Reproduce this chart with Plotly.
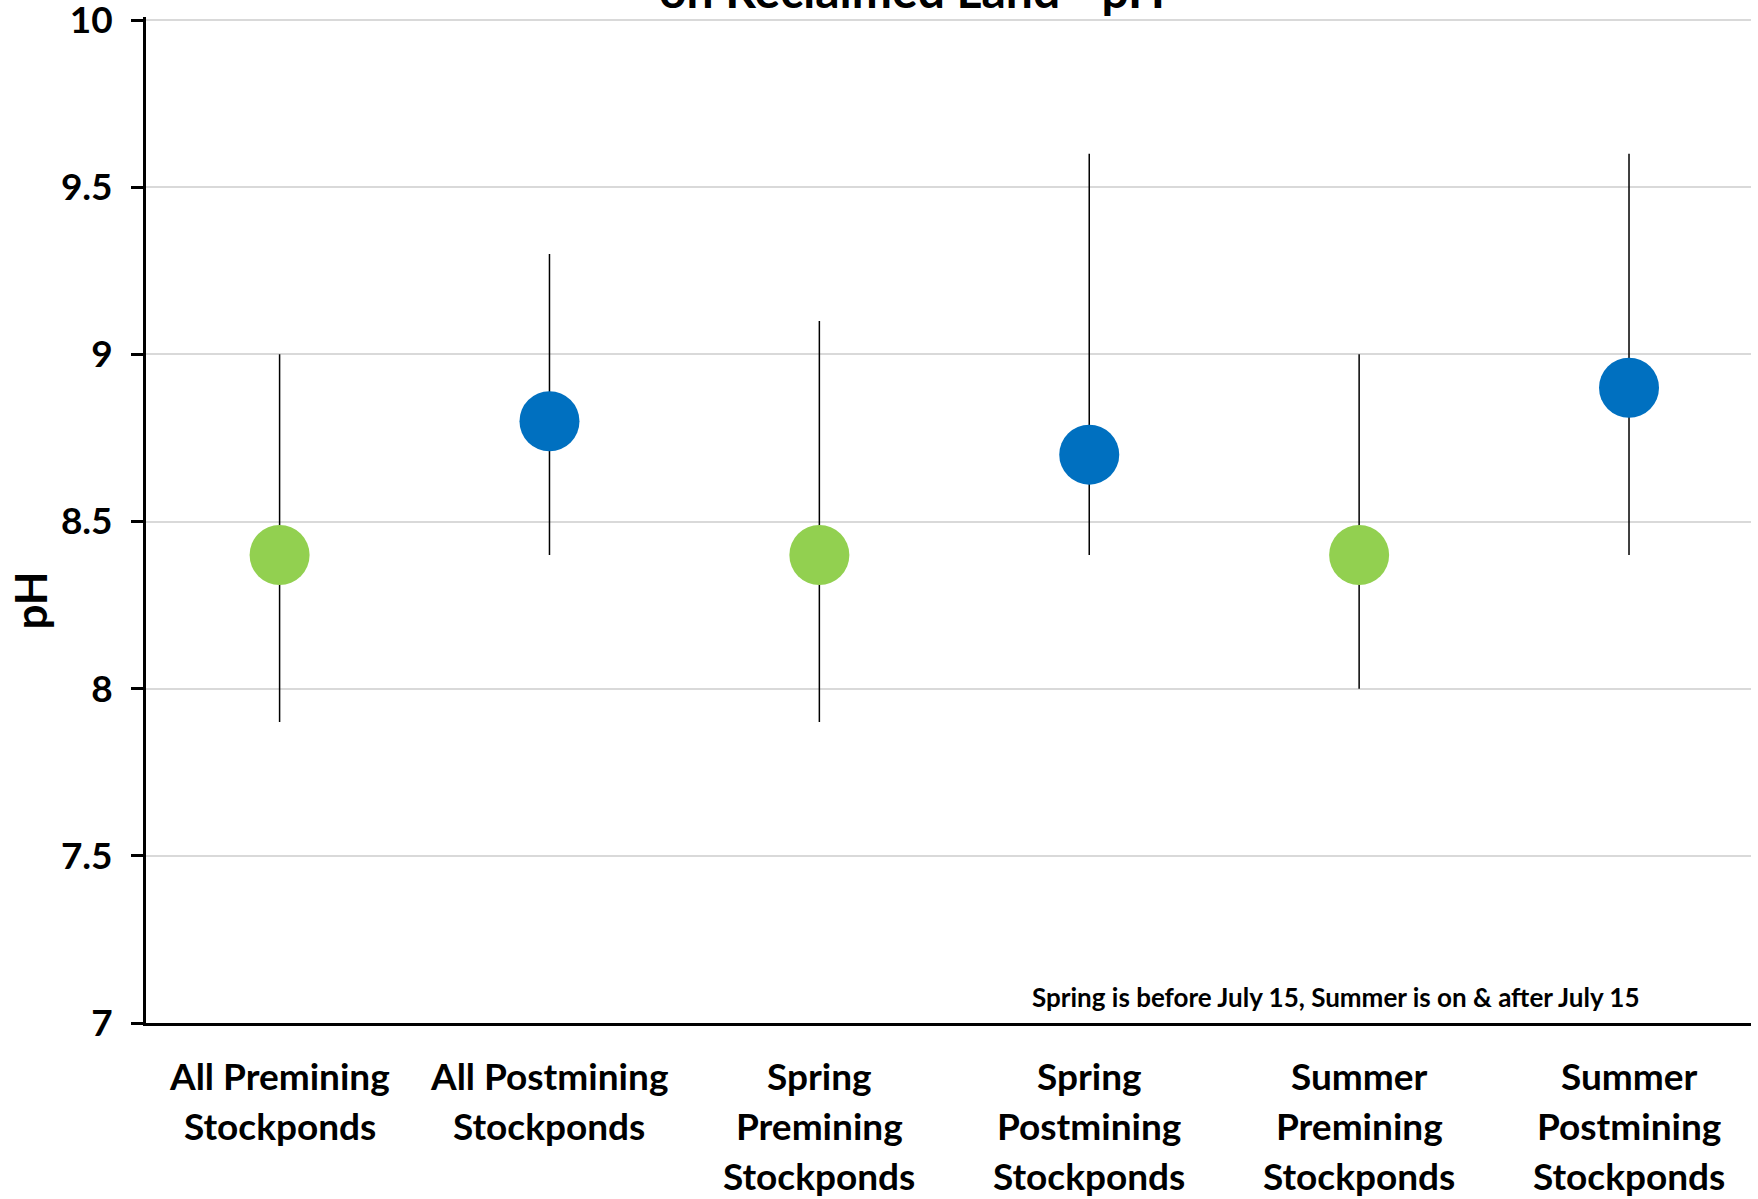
import plotly.graph_objects as go

# Stockpond groups and their pH summary (mean with min/max range)
categories = [
    "All Premining<br>Stockponds",
    "All Postmining<br>Stockponds",
    "Spring<br>Premining<br>Stockponds",
    "Spring<br>Postmining<br>Stockponds",
    "Summer<br>Premining<br>Stockponds",
    "Summer<br>Postmining<br>Stockponds",
]
ph_mean = [8.4, 8.8, 8.4, 8.7, 8.4, 8.9]
ph_min = [7.9, 8.4, 7.9, 8.4, 8.0, 8.4]
ph_max = [9.0, 9.3, 9.1, 9.6, 9.0, 9.6]
period = ["Premining", "Postmining", "Premining", "Postmining", "Premining", "Postmining"]

y_ticks = [7, 7.5, 8, 8.5, 9, 9.5, 10]
y_tick_text = ["7", "7.5", "8", "8.5", "9", "9.5", "10"]

colors = {"Premining": "#92D050", "Postmining": "#0070C0"}
FONT = "Lato"
CAT_SIZE = 37
CAT_LINE = 50      # px between category label lines
CAT_FIRST = 52     # px from axis line to middle of first label line

fig = go.Figure()
fig.add_trace(go.Scatter(
    x=list(range(len(categories))),
    y=ph_mean,
    mode="markers",
    marker=dict(size=60, color=[colors[p] for p in period], line=dict(width=0)),
    error_y=dict(
        type="data",
        symmetric=False,
        array=[hi - m for hi, m in zip(ph_max, ph_mean)],
        arrayminus=[m - lo for lo, m in zip(ph_min, ph_mean)],
        color="black",
        thickness=1.5,
        width=0,
    ),
    showlegend=False,
))

# Category labels, one annotation per text line for Excel-like line spacing
cat_annotations = []
for i, label in enumerate(categories):
    for j, line in enumerate(label.split("<br>")):
        cat_annotations.append(dict(
            text=f"<b>{line}</b>",
            xref="x", yref="paper", x=i, y=0,
            xanchor="center", yanchor="middle",
            yshift=-(CAT_FIRST + j * CAT_LINE),
            showarrow=False, font=dict(size=CAT_SIZE, family=FONT),
        ))

fig.update_layout(
    width=1758,
    height=1199,
    margin=dict(l=146, r=7, t=17, b=176, autoexpand=False),
    plot_bgcolor="white",
    paper_bgcolor="white",
    font=dict(family=FONT, color="black"),
    xaxis=dict(
        range=[-0.495, 5.452],
        tickvals=list(range(len(categories))),
        showticklabels=False,
        showgrid=False,
        zeroline=False,
        showline=True,
        linecolor="black",
        linewidth=3,
        ticks="",
        automargin=False,
    ),
    yaxis=dict(
        range=[7, 10.009],
        tickvals=y_ticks,
        ticktext=[f"<b>{t}</b>" for t in y_tick_text],
        tickfont=dict(size=37, family=FONT),
        ticklabeloverflow="allow",
        automargin=False,
        showgrid=True,
        gridcolor="#d9d9d9",
        gridwidth=2,
        zeroline=False,
        showline=True,
        linecolor="black",
        linewidth=3,
        ticks="outside",
        ticklen=12,
        tickwidth=3,
        tickcolor="black",
        ticklabelstandoff=11,
    ),
    annotations=cat_annotations + [
        dict(
            text="<b>on Reclaimed Land - pH</b>",
            xref="paper", yref="paper", x=0.477, y=1,
            xanchor="center", yanchor="bottom", yshift=-3,
            showarrow=False, font=dict(size=48, family=FONT),
        ),
        dict(
            text="<b>pH</b>",
            xref="paper", yref="paper", x=0, y=0.42,
            xanchor="center", yanchor="middle", xshift=-116,
            textangle=-90, showarrow=False, font=dict(size=44, family=FONT),
        ),
        dict(
            text="<b>Spring is before July 15, Summer is on &amp; after July 15</b>",
            xref="paper", yref="paper", x=0.7414, y=0.026,
            xanchor="center", yanchor="middle",
            showarrow=False, font=dict(size=26, family=FONT),
        ),
    ],
)

fig.write_html("out.html")
